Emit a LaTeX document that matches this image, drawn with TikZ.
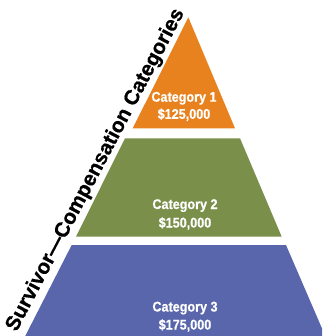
\documentclass[tikz,border=0pt]{standalone}
\usepackage{fontspec}
\setmainfont{Liberation Sans}
\newfontfamily\narrowfont[FakeStretch=0.9,FakeBold=0.6]{Liberation Sans}
\newfontfamily\heavyfont[FakeBold=0.8]{Liberation Sans}
\definecolor{tierorange}{HTML}{E8821E}
\definecolor{tiergreen}{HTML}{7A8F4A}
\definecolor{tierblue}{HTML}{5A66AC}
\tikzset{
  tierlabel/.style={text=white, inner sep=0pt, anchor=base,
    font=\narrowfont\bfseries\fontsize{14}{16}\selectfont},
  sidetitle/.style={text=black, inner sep=0pt, anchor=base west,
    rotate=62.3, font=\heavyfont\bfseries\fontsize{20.7}{22}\selectfont}
}
\begin{document}
\begin{tikzpicture}[x=1pt,y=-1pt]
\useasboundingbox (0,0) rectangle (322,336);
\clip (0,0) rectangle (322,336);
% tiers of the pyramid
\fill[tierorange] (188.3,17.3) -- (235,128.3) -- (132.7,128.3) -- cycle;
\fill[tiergreen] (125,138.3) -- (240,138.3) -- (281.7,236.7) -- (76,236.7) -- cycle;
\fill[tierblue] (71.7,245) -- (286,245) -- (327,340) -- (23.2,340) -- cycle;
% tier captions
\node[tierlabel] (cat1) at (184,101.7) {Category 1};
\node[tierlabel] (amt1) at (184,118.8) {\$125,000};
\node[tierlabel] (cat2) at (185,209) {Category 2};
\node[tierlabel] (amt2) at (185,227.5) {\$150,000};
\node[tierlabel] (cat3) at (185,311.5) {Category 3};
\node[tierlabel] (amt3) at (185,329.5) {\$175,000};
% title along the left slope
\node[sidetitle] (title) at (16.4,332.6) {Survivor—Compensation Categories};
\end{tikzpicture}
\end{document}
